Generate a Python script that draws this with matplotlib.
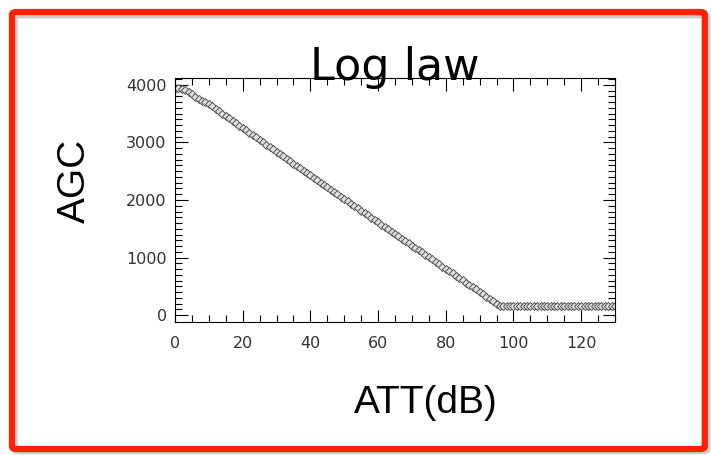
import matplotlib
matplotlib.use("Agg")
import matplotlib.pyplot as plt
from matplotlib.patches import FancyBboxPatch

# attenuation (dB) and AGC readings
att = list(range(0, 131))
agc = [3930, 3940, 3935, 3915, 3880, 3835, 3785, 3750, 3728, 3709,
       3668, 3630, 3585, 3546, 3503, 3460, 3420, 3381, 3338, 3294,
       3255, 3216, 3172, 3129, 3091, 3051, 3007, 2964, 2925, 2885,
       2842, 2799, 2759, 2720, 2677, 2634, 2594, 2555, 2512, 2468,
       2429, 2390, 2346, 2303, 2264, 2225, 2181, 2138, 2099, 2059,
       2016, 1974, 1935, 1897, 1855, 1813, 1774, 1736, 1693, 1651,
       1613, 1574, 1532, 1490, 1451, 1413, 1371, 1328, 1290, 1252,
       1209, 1167, 1129, 1090, 1048, 1006, 967, 929, 887, 844,
       806, 768, 725, 683, 645, 606, 564, 522, 483, 445,
       403, 360, 322, 284, 241, 199, 165, 165, 165, 165,
       165, 165, 165, 165, 165, 165, 165, 165, 165, 165,
       165, 165, 165, 165, 165, 165, 165, 165, 165, 165,
       165, 165, 165, 165, 165, 165, 165, 165, 165, 165,
       165]

xticks = [0, 20, 40, 60, 80, 100, 120]
yticks = [0, 1000, 2000, 3000, 4000]

fig = plt.figure(figsize=(7.12, 4.55), dpi=100)
fig.patch.set_facecolor("white")

# red slide frame with a faint shadow
shadow = FancyBboxPatch((0.0205, 0.0085), 0.973, 0.958,
                        boxstyle="round,pad=0,rounding_size=0.006",
                        transform=fig.transFigure, facecolor="none",
                        edgecolor="#cccccc", linewidth=4.5, zorder=0)
fig.patches.append(shadow)
frame = FancyBboxPatch((0.0169, 0.0132), 0.973, 0.9604,
                       boxstyle="round,pad=0,rounding_size=0.006",
                       transform=fig.transFigure, facecolor="none",
                       edgecolor="#ff2200", linewidth=4.5, zorder=1)
fig.patches.append(frame)

ax = fig.add_axes([175/712, 1-322/455, 440/712, 244/455])
ax.plot(att, agc, color="black", linewidth=1.0, marker="D", markersize=4.5,
        markerfacecolor="#e0e0e0", markeredgecolor="#555555",
        markeredgewidth=0.7)

ax.set_xlim(0, 130)
ax.set_ylim(-120, 4120)
ax.set_xticks(xticks)
ax.set_yticks(yticks)
ax.set_xticks(range(0, 131, 5), minor=True)
ax.set_yticks(range(0, 4101, 100), minor=True)
ax.tick_params(which="both", direction="in", top=True, right=True,
               colors="black", labelcolor="#333333", labelsize=11.5)
ax.tick_params(which="major", length=9, width=0.8)
ax.tick_params(which="minor", length=5, width=0.8)
ax.tick_params(axis="x", pad=10)
ax.tick_params(axis="y", pad=6)
for s in ax.spines.values():
    s.set_linewidth(0.8)

fig.text(395/712, 1-80/455, "Log law", ha="center", va="baseline",
         fontsize=32, color="black")
fig.text(75/712, 1-181/455, "AGC", rotation=90, ha="center", va="center",
         fontsize=28, family="Liberation Sans", color="black")
fig.text(426/712, 1-403/455, "ATT(dB)", ha="center", va="center",
         fontsize=28, family="Liberation Sans", color="black")

fig.savefig("out.png", dpi=100)
